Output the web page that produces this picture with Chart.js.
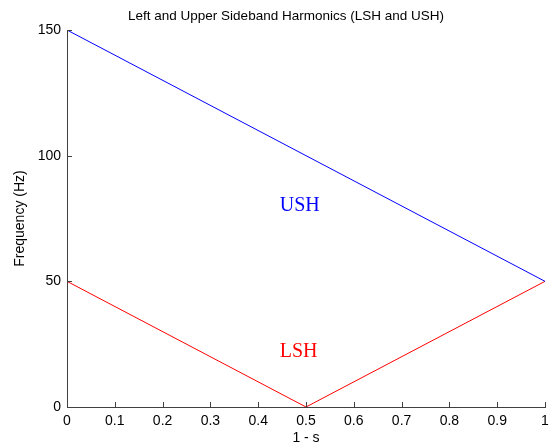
<!DOCTYPE html>
<html>
<head>
<meta charset="utf-8">
<script src="https://cdn.jsdelivr.net/npm/chart.js@4/dist/chart.umd.min.js"></script>
<style>
  html, body { margin: 0; padding: 0; background: #fff; }
  #wrap { width: 556px; height: 448px; }
</style>
</head>
<body>
<div id="wrap"><canvas id="chart" width="556" height="448"></canvas></div>
<script>
// data
const ushX = [0, 1];
const ushY = [150, 50];
const lshX = [0, 0.5, 1];
const lshY = [50, 0, 50];

const xTicks = [0, 0.1, 0.2, 0.3, 0.4, 0.5, 0.6, 0.7, 0.8, 0.9, 1];
const yTicks = [0, 50, 100, 150];

// in-plot text labels
const noteText   = ['USH', 'LSH'];
const noteX      = [0.445, 0.445];
const noteY      = [80, 22];
const noteColors = ['#0000ff', '#ff0000'];

const AXIS_COLOR = '#404040';
const TICK_FONT  = { family: 'Liberation Sans', size: 14 };

function pts(xs, ys) {
    return xs.map((x, i) => ({ x: x, y: ys[i] }));
}

// matlab style: inward ticks, title, text annotations
const extras = {
    id: 'extras',
    afterDraw(chart) {
        const ctx = chart.ctx;
        const xs = chart.scales.x;
        const ys = chart.scales.y;
        const area = chart.chartArea;

        ctx.save();
        ctx.strokeStyle = AXIS_COLOR;
        ctx.lineWidth = 1;
        ctx.beginPath();
        xTicks.forEach(v => {
            const px = Math.round(xs.getPixelForValue(v)) + 0.5;
            ctx.moveTo(px, area.bottom);
            ctx.lineTo(px, area.bottom - 5);
        });
        yTicks.forEach(v => {
            const py = Math.round(ys.getPixelForValue(v)) + 0.5;
            ctx.moveTo(area.left, py);
            ctx.lineTo(area.left + 5, py);
        });
        ctx.stroke();

        ctx.font = '20px "Liberation Serif", "Times New Roman", serif';
        ctx.textAlign = 'left';
        ctx.textBaseline = 'middle';
        noteText.forEach((t, i) => {
            ctx.fillStyle = noteColors[i];
            ctx.fillText(t, xs.getPixelForValue(noteX[i]), ys.getPixelForValue(noteY[i]));
        });

        ctx.fillStyle = '#000';
        ctx.font = '13.5px "Liberation Sans", Arial, sans-serif';
        ctx.textAlign = 'center';
        ctx.fillText('Left and Upper Sideband Harmonics (LSH and USH)', 286, 16);
        ctx.restore();
    }
};

new Chart(document.getElementById('chart'), {
    type: 'line',
    data: {
        datasets: [
            {
                label: 'USH',
                data: pts(ushX, ushY),
                borderColor: '#0000ff',
                borderWidth: 1,
                pointRadius: 0,
                tension: 0
            },
            {
                label: 'LSH',
                data: pts(lshX, lshY),
                borderColor: '#ff0000',
                borderWidth: 1,
                pointRadius: 0,
                tension: 0
            }
        ]
    },
    options: {
        responsive: false,
        animation: false,
        layout: { padding: { top: 30, right: 11, left: 0, bottom: 0 } },
        plugins: {
            legend: { display: false },
            tooltip: { enabled: false },
            title: { display: false }
        },
        scales: {
            x: {
                type: 'linear',
                min: 0,
                max: 1,
                afterBuildTicks: s => { s.ticks = xTicks.map(v => ({ value: v })); },
                afterFit: s => { s.height = 41; },
                grid: { display: false, drawTicks: false },
                border: { display: true, color: AXIS_COLOR, width: 1 },
                ticks: {
                    color: '#000',
                    font: TICK_FONT,
                    padding: 6,
                    maxRotation: 0,
                    autoSkip: false,
                    callback: v => String(v)
                },
                title: {
                    display: true,
                    text: '1 - s',
                    color: '#000',
                    font: TICK_FONT,
                    padding: { top: 0, bottom: 1 }
                }
            },
            y: {
                type: 'linear',
                min: 0,
                max: 150,
                afterBuildTicks: s => { s.ticks = yTicks.map(v => ({ value: v })); },
                afterFit: s => { s.width = 67; },
                grid: { display: false, drawTicks: false },
                border: { display: true, color: AXIS_COLOR, width: 1 },
                ticks: {
                    color: '#000',
                    font: TICK_FONT,
                    padding: 6,
                    autoSkip: false,
                    callback: v => String(v)
                },
                title: {
                    display: true,
                    text: 'Frequency (Hz)',
                    color: '#000',
                    font: TICK_FONT,
                    padding: { top: 12, bottom: 0 }
                }
            }
        }
    },
    plugins: [extras]
});
</script>
</body>
</html>
